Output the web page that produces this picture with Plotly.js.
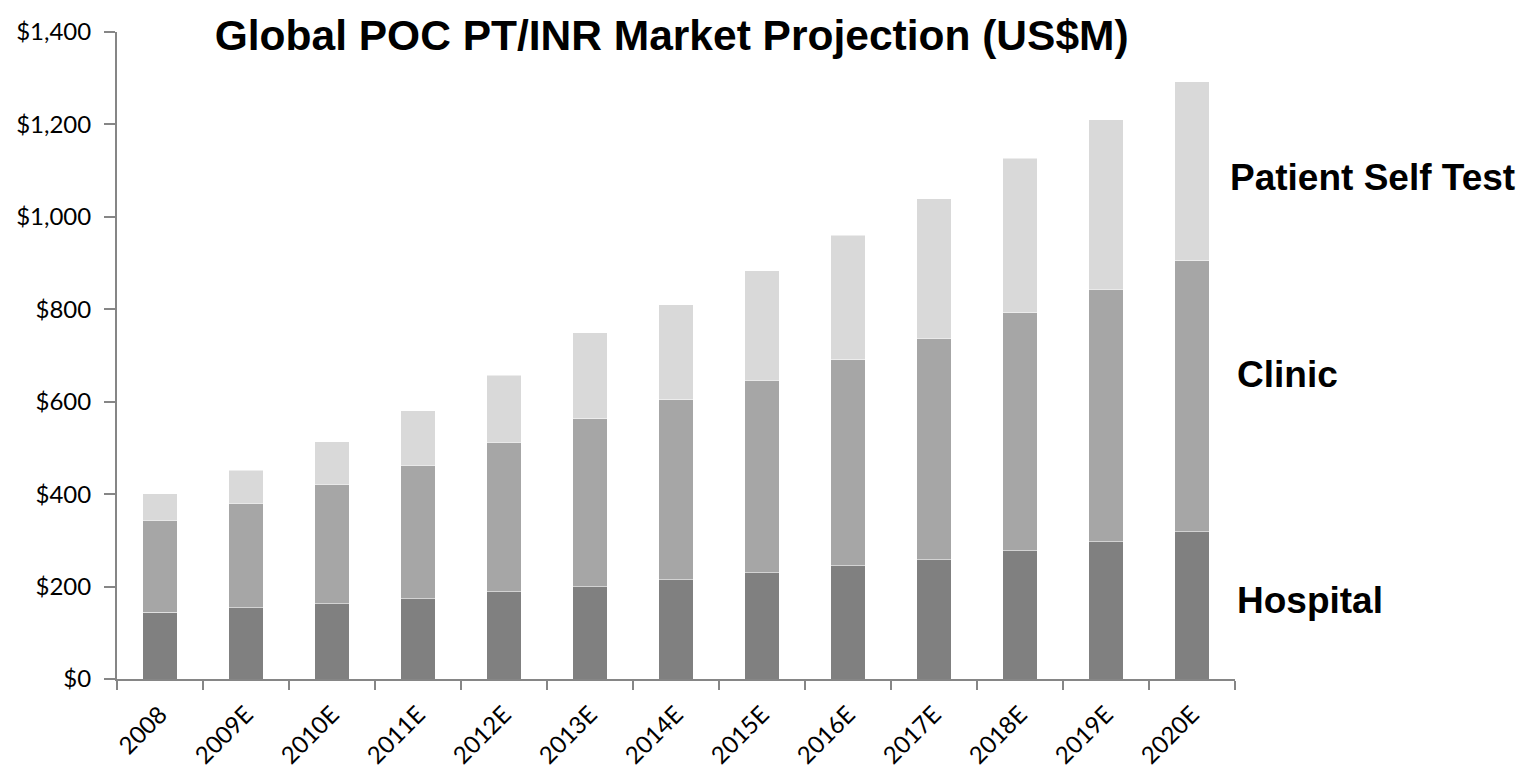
<!DOCTYPE html>
<html>
<head>
<meta charset="utf-8">
<script src="https://cdn.plot.ly/plotly-3.0.1.min.js"></script>
<style>html,body{margin:0;padding:0;background:#fff;}#chart{width:1537px;height:775px;}</style>
</head>
<body>
<div id="chart"></div>
<script>
var categories = ["2008","2009E","2010E","2011E","2012E","2013E","2014E","2015E","2016E","2017E","2018E","2019E","2020E"];
var hospital = [144, 154, 163, 174, 189, 200, 215, 230, 245, 258, 278, 297, 319];
var clinic = [199, 226, 258, 288, 323, 363, 389, 416, 446, 479, 515, 546, 586];
var patientSelfTest = [58, 72, 92, 118, 145, 186, 206, 237, 269, 302, 334, 367, 387];
var yTickVals = [0, 200, 400, 600, 800, 1000, 1200, 1400];
var yTickText = ["$0","$200","$400","$600","$800","$1,000","$1,200","$1,400"];

function series(name, vals, color) {
  return {type: "bar", name: name, x: categories, y: vals,
    marker: {color: color, line: {color: "rgba(255,255,255,0.5)", width: 1}},
    hoverinfo: "x+y+name"};
}
var data = [
  series("Hospital", hospital, "#808080"),
  series("Clinic", clinic, "#a6a6a6"),
  series("Patient Self Test", patientSelfTest, "#d9d9d9")
];
var labelFont = {family: "Liberation Sans, Arial, sans-serif", size: 37, color: "#000"};
var layout = {
  width: 1537, height: 775,
  margin: {l: 117, r: 302, t: 32, b: 96},
  paper_bgcolor: "#fff", plot_bgcolor: "#fff",
  barmode: "stack", bargap: 0.6,
  showlegend: false,
  title: {text: "<b>Global POC PT/INR Market Projection (US$M)</b>",
    font: {family: "Liberation Sans, Arial, sans-serif", size: 42.5, color: "#000"},
    x: 0.437, xanchor: "center", y: 0.955, yanchor: "middle"},
  xaxis: {type: "category", showline: true, linecolor: "#868686", linewidth: 2,
    ticks: "outside", tickson: "boundaries", ticklen: 9, tickcolor: "#868686", tickwidth: 2,
    tickangle: -45, ticklabelstandoff: 10,
    tickfont: {family: "Lato, Open Sans, sans-serif", size: 24, color: "#000"},
    showgrid: false, zeroline: false},
  yaxis: {range: [0, 1400], tickvals: yTickVals, ticktext: yTickText,
    showline: true, linecolor: "#868686", linewidth: 2,
    ticks: "outside", ticklen: 11, tickcolor: "#868686", tickwidth: 2,
    ticklabelstandoff: 8,
    tickfont: {family: "Lato, Open Sans, sans-serif", size: 24, color: "#000"},
    showgrid: false, zeroline: false}
};
layout.annotations = [
  {xref: "paper", yref: "y", x: 1, xanchor: "left", xshift: -7, y: 1085, yanchor: "middle", text: "<b>Patient Self Test</b>", showarrow: false, font: labelFont},
  {xref: "paper", yref: "y", x: 1, xanchor: "left", xshift: 0, y: 658, yanchor: "middle", text: "<b>Clinic</b>", showarrow: false, font: labelFont},
  {xref: "paper", yref: "y", x: 1, xanchor: "left", xshift: 0, y: 169, yanchor: "middle", text: "<b>Hospital</b>", showarrow: false, font: labelFont}
];
Plotly.newPlot("chart", data, layout, {displayModeBar: false, responsive: false});
</script>
</body>
</html>
